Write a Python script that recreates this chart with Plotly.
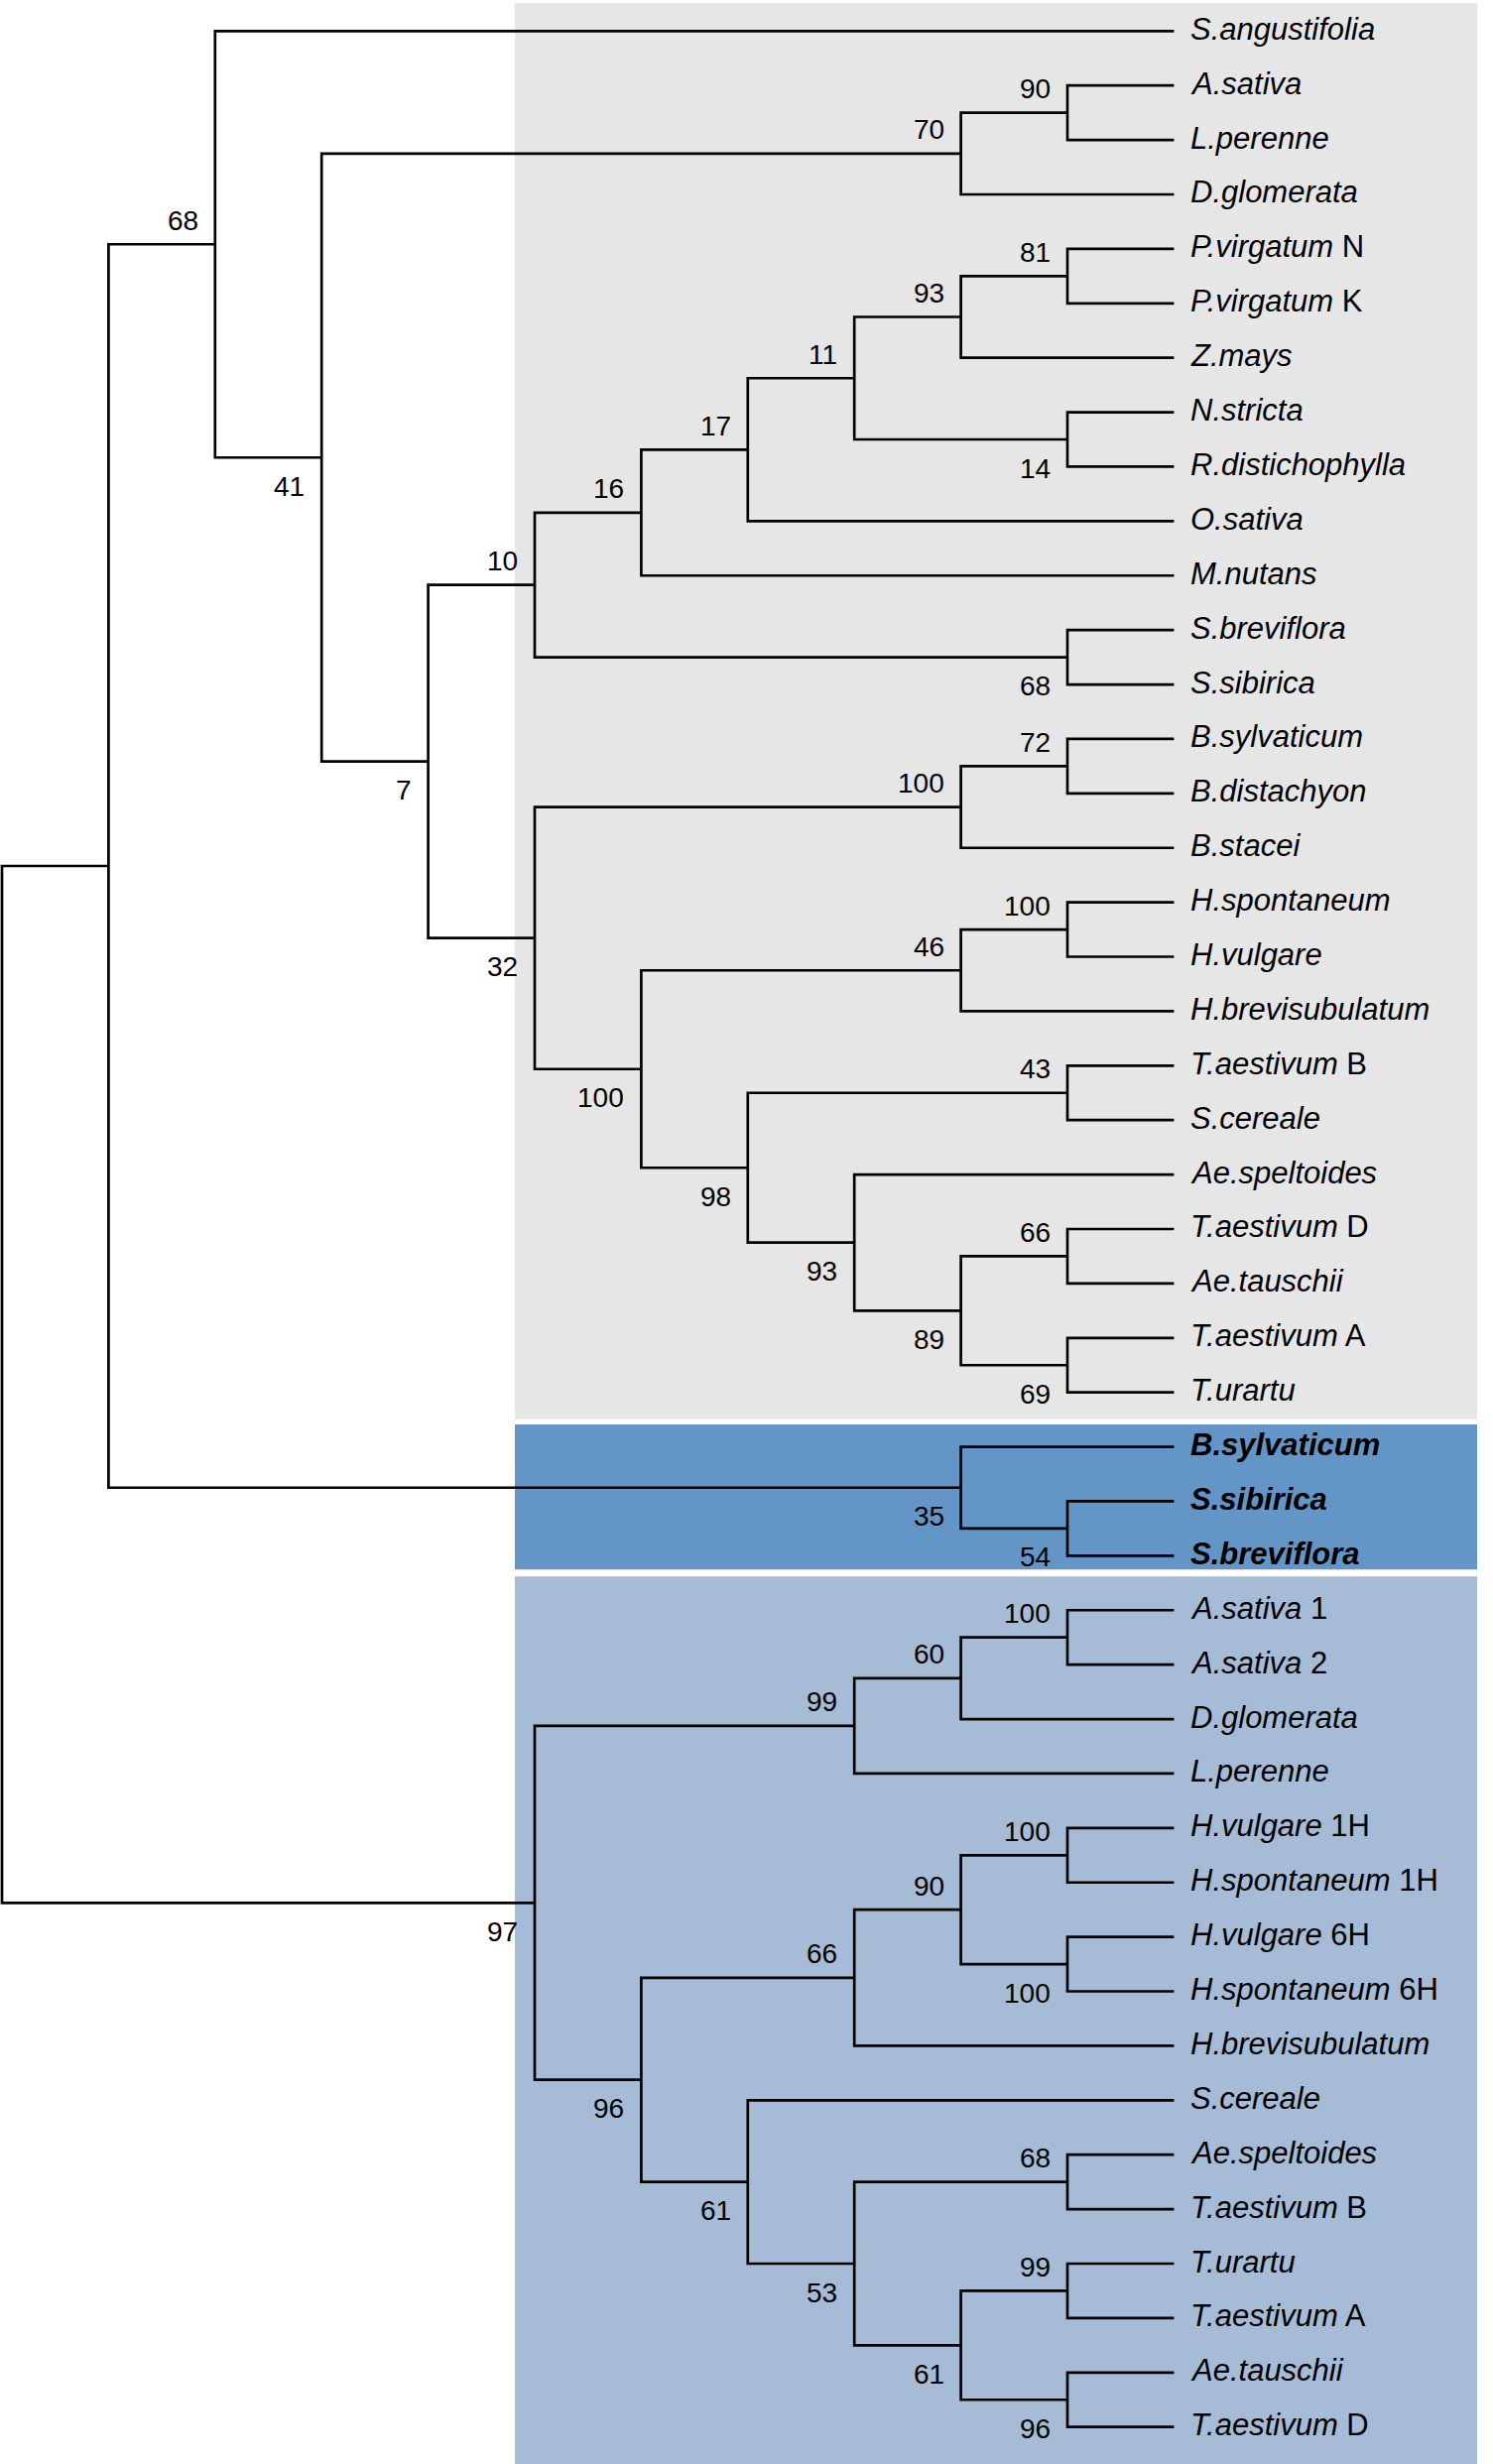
import plotly.graph_objects as go

# ---------------- data ----------------
# leaf labels (top to bottom): italic species part, plain suffix
leaf_species = [
    "S.angustifolia", "A.sativa", "L.perenne", "D.glomerata", "P.virgatum", "P.virgatum",
    "Z.mays", "N.stricta", "R.distichophylla", "O.sativa", "M.nutans", "S.breviflora",
    "S.sibirica", "B.sylvaticum", "B.distachyon", "B.stacei", "H.spontaneum", "H.vulgare",
    "H.brevisubulatum", "T.aestivum", "S.cereale", "Ae.speltoides", "T.aestivum",
    "Ae.tauschii", "T.aestivum", "T.urartu",
    "B.sylvaticum", "S.sibirica", "S.breviflora",
    "A.sativa", "A.sativa", "D.glomerata", "L.perenne", "H.vulgare", "H.spontaneum",
    "H.vulgare", "H.spontaneum", "H.brevisubulatum", "S.cereale", "Ae.speltoides",
    "T.aestivum", "T.urartu", "T.aestivum", "Ae.tauschii", "T.aestivum",
]
leaf_suffix = [
    "", "", "", "", "N", "K", "", "", "", "", "", "", "", "", "", "", "", "", "", "B", "", "",
    "D", "", "A", "", "", "", "", "1", "2", "", "", "1H", "1H", "6H", "6H", "", "", "", "B",
    "", "A", "", "D",
]
bold_leaves = [26, 27, 28]

# topology (leaf indices) with bootstrap support after each clade
newick = ("(((0,(((1,2)90,3)70,(((((((4,5)81,6)93,(7,8)14)11,9)17,10)16,(11,12)68)10,"
          "(((13,14)72,15)100,(((16,17)100,18)46,((19,20)43,(21,((22,23)66,(24,25)69)89)93)98)100)32)7)41)68,"
          "(26,(27,28)54)35),"
          "((((29,30)100,31)60,32)99,((((33,34)100,(35,36)100)90,37)66,"
          "(38,((39,40)68,((41,42)99,(43,44)96)61)53)61)96)97)")

# ---------------- parse ----------------
def parse(s):
    pos = 0

    def node():
        nonlocal pos
        if s[pos] == "(":
            pos += 1
            kids = [node()]
            while s[pos] == ",":
                pos += 1
                kids.append(node())
            assert s[pos] == ")"
            pos += 1
            lab = ""
            while pos < len(s) and s[pos].isdigit():
                lab += s[pos]
                pos += 1
            return {"kids": kids, "label": lab}
        num = ""
        while s[pos].isdigit():
            num += s[pos]
            pos += 1
        return {"leaf": int(num)}

    return node()

tree = parse(newick)

def height(n):
    if "leaf" in n:
        n["h"] = 0
    else:
        n["h"] = 1 + max(height(k) for k in n["kids"])
    return n["h"]

H = height(tree)

def layout(n):
    n["x"] = H - n["h"]
    if "leaf" in n:
        n["y"] = n["leaf"]
    else:
        for k in n["kids"]:
            layout(k)
        n["y"] = (n["kids"][0]["y"] + n["kids"][-1]["y"]) / 2

layout(tree)

xs, ys = [], []
support = []  # (x, y, text, is_upper)

def collect(n):
    if "leaf" in n:
        return
    k0, k1 = n["kids"][0], n["kids"][-1]
    xs.extend([k0["x"], n["x"], n["x"], k1["x"], None])
    ys.extend([k0["y"], k0["y"], k1["y"], k1["y"], None])
    for i, k in enumerate(n["kids"]):
        if "leaf" not in k and k["label"]:
            support.append((k["x"], k["y"], k["label"], i == 0))
        collect(k)

collect(tree)

# ---------------- figure ----------------
FONT = "Liberation Sans, Arial, sans-serif"
X0, XS = 2.0, 107.4      # pixel of level 0, pixels per level
Y0, YS = 31.3, 54.895    # pixel of first leaf, pixels per leaf

fig = go.Figure()
fig.add_trace(go.Scatter(x=xs, y=ys, mode="lines",
                         line=dict(color="black", width=2.7),
                         hoverinfo="skip", showlegend=False))

annotations = []
for i, (sp, sf) in enumerate(zip(leaf_species, leaf_suffix)):
    txt = "<i>" + sp + "</i>" + ((" " + sf) if sf else "")
    if i in bold_leaves:
        txt = "<b>" + txt + "</b>"
    annotations.append(dict(x=H, y=i, xref="x", yref="y", text=txt, showarrow=False,
                            xanchor="left", yanchor="middle", xshift=15, yshift=2,
                            font=dict(family=FONT, size=31, color="black")))
for (x, y, t, up) in support:
    annotations.append(dict(x=x, y=y, xref="x", yref="y", text=t, showarrow=False,
                            xanchor="right", yanchor="middle", xshift=-15,
                            yshift=(24 if up else -29),
                            font=dict(family=FONT, size=28, color="black")))

def px_x(p):
    return (p - X0) / XS

def px_y(p):
    return (p - Y0) / YS

shapes = [
    dict(type="rect", xref="x", yref="y", x0=px_x(519), x1=px_x(1489), y0=px_y(3.3), y1=px_y(1430.7),
         fillcolor="#e6e6e6", line=dict(width=0), layer="below"),
    dict(type="rect", xref="x", yref="y", x0=px_x(519), x1=px_x(1489), y0=px_y(1436), y1=px_y(1582.3),
         fillcolor="#6395c6", line=dict(width=0), layer="below"),
    dict(type="rect", xref="x", yref="y", x0=px_x(519), x1=px_x(1489), y0=px_y(1589.3), y1=px_y(2500),
         fillcolor="#a6bbd5", line=dict(width=0), layer="below"),
]

fig.update_layout(
    width=1505, height=2484,
    margin=dict(l=0, r=0, t=0, b=0),
    paper_bgcolor="white", plot_bgcolor="white",
    xaxis=dict(range=[px_x(0), px_x(1505)], visible=False, fixedrange=True),
    yaxis=dict(range=[px_y(2484), px_y(0)], visible=False, fixedrange=True),
    annotations=annotations, shapes=shapes,
)

fig.write_html("out.html", config={"displayModeBar": False},
               post_script="document.body.style.margin='0';document.body.style.padding='0';"
                           "document.body.style.overflow='hidden';")
